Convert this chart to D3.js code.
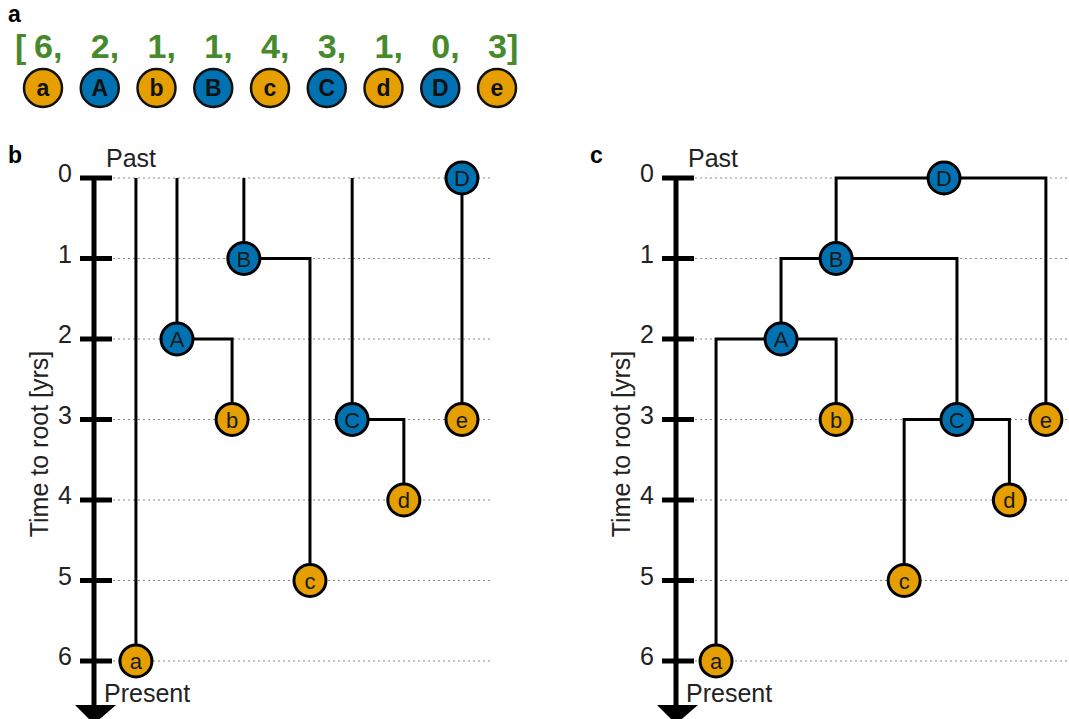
<!DOCTYPE html>
<html>
<head>
<meta charset="utf-8">
<script src="https://cdn.jsdelivr.net/npm/d3@7"></script>
<style>
	body { margin: 0; background: #fff; }
	svg { display: block; font-family: 'Liberation Sans', Arial, sans-serif; }
</style>
</head>
<body>
<script>
'use strict'

// node order as in panel a
const names = ['a', 'A', 'b', 'B', 'c', 'C', 'd', 'D', 'e'];
const kinds = ['leaf', 'inner', 'leaf', 'inner', 'leaf', 'inner', 'leaf', 'inner', 'leaf'];
const encoding = [6, 2, 1, 1, 4, 3, 1, 0, 3];
const times = [6, 2, 3, 1, 5, 3, 4, 0, 3];
const timeTicks = [0, 1, 2, 3, 4, 5, 6];

// panel b: each node hangs from the top or from one earlier node
const parentsB = [null, null, 'A', null, 'B', null, 'C', null, 'D'];
const columnsB = [6.3, 17.1, 31.6, 34.7, 52.1, 63.2, 76.8, 92.1, 92.1];

// panel c: the resolved tree
const parentsC = ['A', 'B', 'A', 'D', 'C', 'B', 'C', null, 'D'];
const columnsC = [5.8, 22.9, 37.4, 37.4, 55.3, 69.2, 83.0, 65.8, 92.6];

;(() => {
	const fills = { leaf: '#E69F00', inner: '#0072B2' };

	const svg = d3.select('body').append('svg')
		.attr('width', 1069)
		.attr('height', 719);

	// ---- panel a
	svg.append('text').attr('x', 8).attr('y', 22)
		.style('font-size', '23px').style('font-weight', 'bold').text('a');

	const slot = d3.scalePoint().domain(names).range([43, 497]);

	svg.append('text').attr('x', 15).attr('y', 58)
		.style('font-size', '34px').style('font-weight', 'bold').style('fill', '#468a2c')
		.text('[');

	svg.selectAll('text.code')
		.data(encoding)
		.enter().append('text')
		.classed('code', true)
		.attr('x', (d, i) => slot(names[i]) - 9)
		.attr('y', 58)
		.style('font-size', '34px').style('font-weight', 'bold').style('fill', '#468a2c')
		.text((d, i) => d + (i === encoding.length - 1 ? ']' : ','));

	const legend = svg.selectAll('g.key')
		.data(names)
		.enter().append('g')
		.classed('key', true)
		.attr('transform', d => `translate(${slot(d)},88)`);

	legend.append('circle')
		.attr('r', 19)
		.style('fill', (d, i) => fills[kinds[i]])
		.style('stroke', '#111').style('stroke-width', 2.5);

	legend.append('text')
		.attr('text-anchor', 'middle').attr('dy', 8)
		.style('font-size', '23px').style('font-weight', 'bold').style('fill', '#111')
		.text(d => d);

	// ---- panels b and c
	const y = d3.scaleLinear().domain([0, 6]).range([178, 661]);

	function panel(label, axisX, gridEnd, parents, columns) {
		const g = svg.append('g');
		const x = d3.scaleLinear().domain([0, 100]).range([axisX + 18, axisX + 398]);

		g.append('text').attr('x', axisX - 86).attr('y', 163)
			.style('font-size', '23px').style('font-weight', 'bold').text(label);

		g.selectAll('line.grid')
			.data(timeTicks)
			.enter().append('line')
			.classed('grid', true)
			.attr('x1', axisX + 19).attr('x2', gridEnd)
			.attr('y1', d => y(d)).attr('y2', d => y(d))
			.style('stroke', '#888').style('stroke-width', 1.2)
			.style('stroke-dasharray', '2,3');

		// time axis with arrow
		g.append('line')
			.attr('x1', axisX).attr('x2', axisX)
			.attr('y1', y(0) - 2).attr('y2', 708)
			.style('stroke', '#000').style('stroke-width', 5);
		g.append('path')
			.attr('d', `M${axisX - 19},705L${axisX + 22},705L${axisX},724Z`)
			.style('fill', '#000');

		g.selectAll('line.tick')
			.data(timeTicks)
			.enter().append('line')
			.classed('tick', true)
			.attr('x1', axisX - 14).attr('x2', axisX + 18)
			.attr('y1', d => y(d)).attr('y2', d => y(d))
			.style('stroke', '#000').style('stroke-width', 5);

		g.selectAll('text.tick')
			.data(timeTicks)
			.enter().append('text')
			.classed('tick', true)
			.attr('x', axisX - 22).attr('y', d => y(d) + 4)
			.attr('text-anchor', 'end')
			.style('font-size', '25px').style('fill', '#222')
			.text(d => d);

		g.append('text').attr('x', axisX + 12).attr('y', 167)
			.style('font-size', '25px').style('fill', '#222').text('Past');
		g.append('text').attr('x', axisX + 10).attr('y', 702)
			.style('font-size', '25px').style('fill', '#222').text('Present');

		g.append('text')
			.attr('transform', `translate(${axisX - 46},444) rotate(-90)`)
			.attr('text-anchor', 'middle')
			.style('font-size', '25px').style('fill', '#222')
			.text('Time to root [yrs]');

		const nodes = names.map((n, i) => ({ name: n, kind: kinds[i], t: times[i], col: columns[i], parent: parents[i] }));
		const byName = {};
		nodes.forEach(d => { byName[d.name] = d; });

		g.selectAll('path.edge')
			.data(nodes)
			.enter().append('path')
			.classed('edge', true)
			.attr('d', d => {
				if (!d.parent) return `M${x(d.col)},${y(0)}V${y(d.t)}`;
				const p = byName[d.parent];
				return `M${x(p.col)},${y(p.t)}H${x(d.col)}V${y(d.t)}`;
			})
			.style('fill', 'none').style('stroke', '#000').style('stroke-width', 3);

		const dots = g.selectAll('g.node')
			.data(nodes)
			.enter().append('g')
			.classed('node', true)
			.attr('transform', d => `translate(${x(d.col)},${y(d.t)})`);

		dots.append('circle')
			.attr('r', 16)
			.style('fill', d => fills[d.kind])
			.style('stroke', '#000').style('stroke-width', 3);

		dots.append('text')
			.attr('text-anchor', 'middle').attr('dy', 8)
			.style('font-size', '22px').style('fill', '#1a1a1a')
			.text(d => d.name);
	}

	panel('b', 94, 492, parentsB, columnsB);
	panel('c', 676, 1069, parentsC, columnsC);
})();
</script>
</body>
</html>
